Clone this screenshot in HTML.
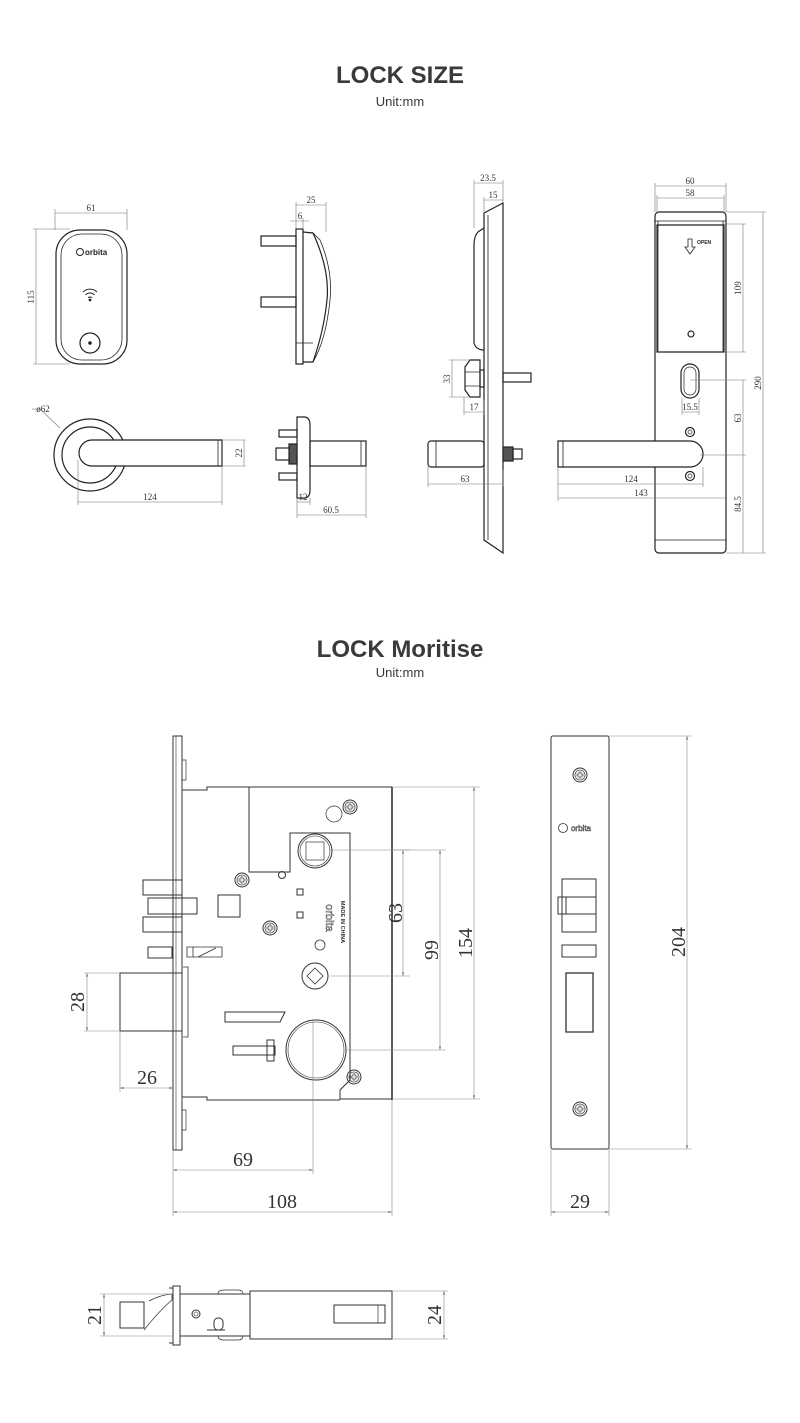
<!DOCTYPE html>
<html><head><meta charset="utf-8"><style>
html,body{margin:0;padding:0;background:#fff;}
svg{display:block;}
.t{font-family:"Liberation Sans",sans-serif;fill:#3a3a3a;text-anchor:middle;}
.d{font-family:"Liberation Serif",serif;fill:#333;text-anchor:middle;}
</style></head><body>
<svg width="800" height="1423" viewBox="0 0 800 1423" xmlns="http://www.w3.org/2000/svg">
<defs>
<marker id="a" viewBox="0 0 10 10" refX="10" refY="5" markerWidth="8" markerHeight="6" orient="auto-start-reverse"><path d="M0,2 L10,5 L0,8 z" fill="#777"/></marker>
<g id="scr"><circle r="7" fill="none" stroke="#333" stroke-width="1"/><circle r="5" fill="none" stroke="#555" stroke-width="0.8"/><path d="M-3,-1 h2 v-2 h2 v2 h2 v2 h-2 v2 h-2 v-2 h-2z" fill="none" stroke="#444" stroke-width="0.7"/></g>
</defs>
<text class="t" x="400" y="83" font-size="24" font-weight="bold">LOCK SIZE</text>
<text class="t" x="400" y="106" font-size="13">Unit:mm</text>
<text class="t" x="400" y="657" font-size="24" font-weight="bold">LOCK Moritise</text>
<text class="t" x="400" y="677" font-size="13">Unit:mm</text>

<g fill="none" stroke="#222" stroke-width="1.2">
<!-- reader front -->
<rect x="56" y="230" width="71" height="134" rx="24"/>
<rect x="61" y="234" width="61" height="126" rx="21" stroke-width="0.8"/>
<circle cx="90" cy="343" r="10"/>
<circle cx="90" cy="343" r="1.2" fill="#222"/>
<circle cx="80" cy="252" r="3.5" stroke-width="1"/>
<path d="M83,292 a10,10 0 0 1 14,0 M85.5,295 a6,6 0 0 1 9,0 M88,298 a2.5,2.5 0 0 1 4,0" stroke-width="1"/>
<circle cx="90" cy="300" r="0.8" fill="#222"/>
<!-- reader side -->
<rect x="296" y="229" width="7" height="135"/>
<path d="M303,232 L313,233 Q330,270 327,300 Q324,330 313,362 L303,362"/>
<path d="M313,233 L320,240 Q333,270 330,300 Q326,340 313,362" stroke-width="0.8"/>
<line x1="296" y1="343" x2="313" y2="343" stroke-width="0.8"/>
<rect x="261" y="236" width="35" height="10"/>
<rect x="261" y="297" width="35" height="10"/>
<!-- lever front -->
<circle cx="90" cy="455" r="36"/>
<circle cx="90" cy="455" r="28"/>
<path d="M92,440 L222,440 L222,466 L92,466 A13,13 0 0 1 92,440 z" fill="#fff"/>
<line x1="218" y1="440" x2="218" y2="466" stroke-width="0.8"/>
<!-- lever side -->
<path d="M297,417 L304,417 Q310,417 310,425 L310,490 Q310,498 304,498 L297,498 z"/>
<rect x="310" y="441" width="56" height="25"/>
<line x1="361" y1="441" x2="361" y2="466" stroke-width="0.8"/>
<rect x="279" y="430" width="18" height="7"/>
<rect x="279" y="473" width="18" height="7"/>
<rect x="276" y="448" width="14" height="12"/>
<rect x="289" y="444" width="8" height="20" fill="#555"/>
<!-- escutcheon side -->
<path d="M484,213 L503,203 L503,553 L484,540 Q484,530 484,525 z"/>
<line x1="488" y1="215" x2="488" y2="540" stroke-width="0.8"/>
<path d="M484,228 L478,232 Q474,236 474,245 L474,343 Q476,350 484,350"/>
<path d="M470,360 L480,360 L480,397 L470,397 L465,390 L465,367 z"/>
<line x1="465" y1="372" x2="480" y2="372" stroke-width="0.7"/>
<line x1="465" y1="386" x2="480" y2="386" stroke-width="0.7"/>
<rect x="480" y="370" width="4" height="17"/>
<rect x="503" y="373" width="28" height="9"/>
<rect x="428" y="441" width="56" height="26" rx="3"/>
<line x1="436" y1="441" x2="436" y2="467" stroke-width="0.8"/>
<rect x="503" y="447" width="10" height="14" fill="#555"/>
<rect x="513" y="449" width="9" height="10"/>
<!-- escutcheon front -->
<rect x="655" y="212" width="71" height="341" rx="4"/>
<path d="M657,225 L724,225 L724,352 L657,352 z"/>
<line x1="655" y1="221" x2="726" y2="221" stroke-width="0.8"/>
<line x1="658" y1="221" x2="658" y2="352" stroke-width="0.8"/>
<line x1="723" y1="221" x2="723" y2="352" stroke-width="0.8"/>
<line x1="655" y1="540" x2="726" y2="540" stroke-width="0.8"/>
<path d="M688,239 h4 v8 h3 l-5,7 l-5,-7 h3 z" stroke-width="0.8"/>
<circle cx="691" cy="334" r="3"/>
<rect x="681" y="364" width="18" height="34" rx="9"/>
<rect x="684" y="367" width="12" height="28" rx="6" stroke-width="0.7"/>
<circle cx="690" cy="432" r="4.5"/><circle cx="690" cy="432" r="2" stroke-width="0.7"/>
<circle cx="690" cy="476" r="4.5"/><circle cx="690" cy="476" r="2" stroke-width="0.7"/>
<path d="M558,441 L690,441 A13,13 0 0 1 690,467 L558,467 z" fill="#fff"/>
<line x1="563" y1="441" x2="563" y2="467" stroke-width="0.8"/>
</g>
<text x="697" y="244" font-family="Liberation Sans,sans-serif" font-size="5" font-weight="bold" fill="#222">OPEN</text>
<text x="85" y="255" font-family="Liberation Sans,sans-serif" font-size="8" font-weight="bold" fill="#222">orbita</text>

<!-- top dims -->
<g stroke="#777" stroke-width="0.6" fill="none">
<line x1="55" y1="213" x2="127" y2="213"/><line x1="55" y1="209" x2="55" y2="230"/><line x1="127" y1="209" x2="127" y2="230"/>
<line x1="36" y1="229" x2="36" y2="364"/><line x1="33" y1="229" x2="70" y2="229"/><line x1="33" y1="364" x2="70" y2="364"/>
<line x1="296" y1="205" x2="326" y2="205"/><line x1="326" y1="202" x2="326" y2="232"/><line x1="296" y1="202" x2="296" y2="229"/>
<line x1="290" y1="221" x2="309" y2="221"/><line x1="303" y1="218" x2="303" y2="229"/>
<line x1="32" y1="409" x2="40" y2="409"/><line x1="40" y1="409" x2="60" y2="428"/>
<line x1="222" y1="440" x2="246" y2="440"/><line x1="222" y1="466" x2="246" y2="466"/><line x1="244" y1="440" x2="244" y2="466"/>
<line x1="78" y1="502" x2="222" y2="502"/><line x1="78" y1="460" x2="78" y2="505"/><line x1="222" y1="466" x2="222" y2="505"/>
<line x1="297" y1="502" x2="310" y2="502"/><line x1="297" y1="498" x2="297" y2="518"/><line x1="310" y1="498" x2="310" y2="505"/>
<line x1="297" y1="515" x2="366" y2="515"/><line x1="366" y1="466" x2="366" y2="518"/>
<line x1="474" y1="183" x2="503" y2="183"/><line x1="474" y1="180" x2="474" y2="228"/><line x1="503" y1="180" x2="503" y2="203"/>
<line x1="484" y1="200" x2="503" y2="200"/><line x1="484" y1="197" x2="484" y2="213"/>
<line x1="452" y1="360" x2="452" y2="397"/><line x1="449" y1="360" x2="470" y2="360"/><line x1="449" y1="397" x2="470" y2="397"/>
<line x1="464" y1="412" x2="484" y2="412"/><line x1="464" y1="397" x2="464" y2="415"/><line x1="484" y1="400" x2="484" y2="415"/>
<line x1="428" y1="484" x2="503" y2="484"/><line x1="428" y1="467" x2="428" y2="487"/><line x1="503" y1="470" x2="503" y2="487"/>
<line x1="655" y1="186" x2="726" y2="186"/><line x1="655" y1="183" x2="655" y2="212"/><line x1="726" y1="183" x2="726" y2="212"/>
<line x1="657" y1="198" x2="724" y2="198"/><line x1="657" y1="195" x2="657" y2="212"/><line x1="724" y1="195" x2="724" y2="212"/>
<line x1="743" y1="224" x2="743" y2="352"/><line x1="724" y1="224" x2="746" y2="224"/><line x1="724" y1="352" x2="746" y2="352"/>
<line x1="763" y1="212" x2="763" y2="553"/><line x1="726" y1="212" x2="766" y2="212"/><line x1="726" y1="553" x2="766" y2="553"/>
<line x1="743" y1="380" x2="743" y2="553"/><line x1="690" y1="380" x2="746" y2="380"/><line x1="700" y1="455" x2="746" y2="455"/>
<line x1="682" y1="412" x2="699" y2="412"/><line x1="682" y1="398" x2="682" y2="415"/><line x1="699" y1="398" x2="699" y2="415"/>
<line x1="558" y1="484" x2="703" y2="484"/><line x1="558" y1="467" x2="558" y2="501"/><line x1="703" y1="467" x2="703" y2="487"/>
<line x1="558" y1="498" x2="726" y2="498"/>
</g>
<g class="d" font-size="9">
<text x="91" y="211">61</text>
<text x="0" y="0" transform="translate(34,297) rotate(-90)">115</text>
<text x="311" y="203">25</text><text x="300" y="219">6</text>
<text x="43" y="412">ø62</text>
<text x="0" y="0" transform="translate(242,453) rotate(-90)">22</text>
<text x="150" y="500">124</text>
<text x="303" y="500">12</text><text x="331" y="513">60.5</text>
<text x="488" y="181">23.5</text><text x="493" y="198">15</text>
<text x="0" y="0" transform="translate(450,379) rotate(-90)">33</text>
<text x="474" y="410">17</text><text x="465" y="482">63</text>
<text x="690" y="184">60</text><text x="690" y="196">58</text>
<text x="0" y="0" transform="translate(741,288) rotate(-90)">109</text>
<text x="0" y="0" transform="translate(761,383) rotate(-90)">290</text>
<text x="0" y="0" transform="translate(741,418) rotate(-90)">63</text>
<text x="0" y="0" transform="translate(741,504) rotate(-90)">84.5</text>
<text x="690" y="410">15.5</text><text x="631" y="482">124</text><text x="641" y="496">143</text>
</g>

<!-- mortise body -->
<g fill="none" stroke="#333" stroke-width="1">
<rect x="173" y="736" width="9" height="414"/>
<line x1="176" y1="736" x2="176" y2="1150" stroke-width="0.6"/>
<path d="M182,760 h4 v20 h-4 M182,1110 h4 v20 h-4" stroke-width="0.7"/>
<path d="M182,790 L207,790 L207,787 L249,787 L249,872 L290,872 L290,833 L350,833 L350,1080 L340,1090 L340,1099 L392,1099 L392,787 L249,787"/>
<path d="M182,1097 L207,1097 L207,1100 L340,1100" />
<line x1="392" y1="787" x2="392" y2="1100" stroke-width="1.6"/>
<circle cx="315" cy="851" r="17"/><circle cx="315" cy="851" r="15" stroke-width="0.6"/>
<rect x="306" y="842" width="18" height="18" stroke-width="0.7"/>
<circle cx="334" cy="814" r="8" stroke-width="0.7"/>
<circle cx="282" cy="875" r="3.5"/>
<rect x="297" y="889" width="6" height="6"/><rect x="297" y="912" width="6" height="6"/>
<circle cx="320" cy="945" r="5" stroke-width="0.8"/>
<circle cx="315" cy="976" r="13"/><path d="M315,968 L323,976 L315,984 L307,976 z" stroke-width="0.8"/>
<circle cx="316" cy="1050" r="30"/><circle cx="316" cy="1050" r="28" stroke-width="0.6"/>
<path d="M225,1012 L285,1012 L280,1022 L225,1022 z"/>
<rect x="233" y="1046" width="42" height="9"/><rect x="267" y="1040" width="7" height="21"/>
<rect x="143" y="880" width="39" height="15"/><rect x="148" y="898" width="34" height="16"/><rect x="143" y="917" width="39" height="15"/>
<rect x="182" y="898" width="15" height="16"/>
<rect x="218" y="895" width="22" height="22"/>
<rect x="148" y="947" width="24" height="11"/>
<path d="M187,947 L222,947 L222,957 L187,957 z M193,947 V957 M198,957 L216,948" stroke-width="0.8"/>
<rect x="120" y="973" width="62" height="58"/>
<path d="M183,967 h5 v70 h-5" stroke-width="0.8"/>
<use href="#scr" x="350" y="807"/><use href="#scr" x="242" y="880"/><use href="#scr" x="270" y="928"/><use href="#scr" x="354" y="1077"/>
<!-- faceplate -->
<rect x="551" y="736" width="58" height="413" rx="2"/>
<rect x="562" y="879" width="34" height="53"/>
<line x1="562" y1="897" x2="596" y2="897"/><line x1="562" y1="914" x2="596" y2="914"/>
<rect x="558" y="897" width="8" height="17"/>
<rect x="562" y="945" width="34" height="12"/>
<rect x="566" y="973" width="27" height="59" stroke-width="1.3"/>
<use href="#scr" x="580" y="775"/><use href="#scr" x="580" y="1109"/>
<circle cx="563" cy="828" r="4.5" stroke-width="0.8"/>
<!-- bottom view -->
<rect x="173" y="1286" width="7" height="59"/>
<path d="M169,1288 h4 M169,1343 h4" />
<rect x="120" y="1302" width="24" height="26"/>
<path d="M149,1301 Q160,1295 172,1294 L172,1300 Q160,1310 144,1330" stroke-width="0.8"/>
<rect x="180" y="1294" width="70" height="42"/>
<rect x="250" y="1291" width="142" height="48"/>
<rect x="334" y="1305" width="51" height="18"/>
<line x1="378" y1="1305" x2="378" y2="1323" stroke-width="0.7"/>
<circle cx="196" cy="1314" r="4"/><circle cx="196" cy="1314" r="2" stroke-width="0.6"/>
<rect x="214" y="1318" width="9" height="12" rx="4"/>
<path d="M207,1330 h18" />
<path d="M218,1294 q0,-4 6,-4 h14 q5,0 5,4 M218,1336 q0,4 6,4 h14 q5,0 5,-4" stroke-width="0.7"/>
</g>
<text x="0" y="0" transform="translate(326,918) rotate(90)" font-family="Liberation Sans,sans-serif" font-size="11" fill="none" stroke="#444" stroke-width="0.5" text-anchor="middle">orbita</text>
<text x="0" y="0" transform="translate(341,922) rotate(90)" font-family="Liberation Sans,sans-serif" font-size="5.5" font-weight="bold" fill="#333" text-anchor="middle">MADE IN CHINA</text>
<text x="581" y="831" font-family="Liberation Sans,sans-serif" font-size="8" fill="#fff" stroke="#444" stroke-width="0.5" text-anchor="middle">orbita</text>

<!-- mortise dims -->
<g stroke="#888" stroke-width="0.6" fill="none">
<line x1="330" y1="850" x2="410" y2="850"/><line x1="330" y1="976" x2="410" y2="976"/>
<line x1="403" y1="850" x2="403" y2="976" marker-start="url(#a)" marker-end="url(#a)"/>
<line x1="392" y1="850" x2="446" y2="850"/><line x1="346" y1="1050" x2="446" y2="1050"/>
<line x1="440" y1="850" x2="440" y2="1050" marker-start="url(#a)" marker-end="url(#a)"/>
<line x1="392" y1="787" x2="480" y2="787"/><line x1="392" y1="1099" x2="480" y2="1099"/>
<line x1="474" y1="787" x2="474" y2="1099" marker-start="url(#a)" marker-end="url(#a)"/>
<line x1="84" y1="973" x2="120" y2="973"/><line x1="84" y1="1031" x2="120" y2="1031"/>
<line x1="87" y1="973" x2="87" y2="1031" marker-start="url(#a)" marker-end="url(#a)"/>
<line x1="120" y1="1031" x2="120" y2="1092"/>
<line x1="120" y1="1088" x2="173" y2="1088" marker-start="url(#a)" marker-end="url(#a)"/>
<line x1="173" y1="1150" x2="173" y2="1216"/><line x1="313" y1="1020" x2="313" y2="1174"/><line x1="392" y1="1100" x2="392" y2="1216"/>
<line x1="173" y1="1170" x2="313" y2="1170" marker-start="url(#a)" marker-end="url(#a)"/>
<line x1="173" y1="1212" x2="392" y2="1212" marker-start="url(#a)" marker-end="url(#a)"/>
<line x1="609" y1="736" x2="692" y2="736"/><line x1="609" y1="1149" x2="692" y2="1149"/>
<line x1="687" y1="736" x2="687" y2="1149" marker-start="url(#a)" marker-end="url(#a)"/>
<line x1="551" y1="1149" x2="551" y2="1216"/><line x1="609" y1="1149" x2="609" y2="1216"/>
<line x1="551" y1="1212" x2="609" y2="1212" marker-start="url(#a)" marker-end="url(#a)"/>
<line x1="100" y1="1294" x2="173" y2="1294"/><line x1="100" y1="1336" x2="173" y2="1336"/>
<line x1="104" y1="1294" x2="104" y2="1336" marker-start="url(#a)" marker-end="url(#a)"/>
<line x1="392" y1="1291" x2="448" y2="1291"/><line x1="392" y1="1339" x2="448" y2="1339"/>
<line x1="444" y1="1291" x2="444" y2="1339" marker-start="url(#a)" marker-end="url(#a)"/>
</g>
<g class="d" font-size="20">
<text x="0" y="0" transform="translate(402,913) rotate(-90)">63</text>
<text x="0" y="0" transform="translate(438,950) rotate(-90)">99</text>
<text x="0" y="0" transform="translate(472,943) rotate(-90)">154</text>
<text x="0" y="0" transform="translate(84,1002) rotate(-90)">28</text>
<text x="147" y="1084">26</text>
<text x="243" y="1166">69</text>
<text x="282" y="1208">108</text>
<text x="0" y="0" transform="translate(685,942) rotate(-90)">204</text>
<text x="580" y="1208">29</text>
<text x="0" y="0" transform="translate(101,1315) rotate(-90)">21</text>
<text x="0" y="0" transform="translate(441,1315) rotate(-90)">24</text>
</g>
</svg>
</body></html>
